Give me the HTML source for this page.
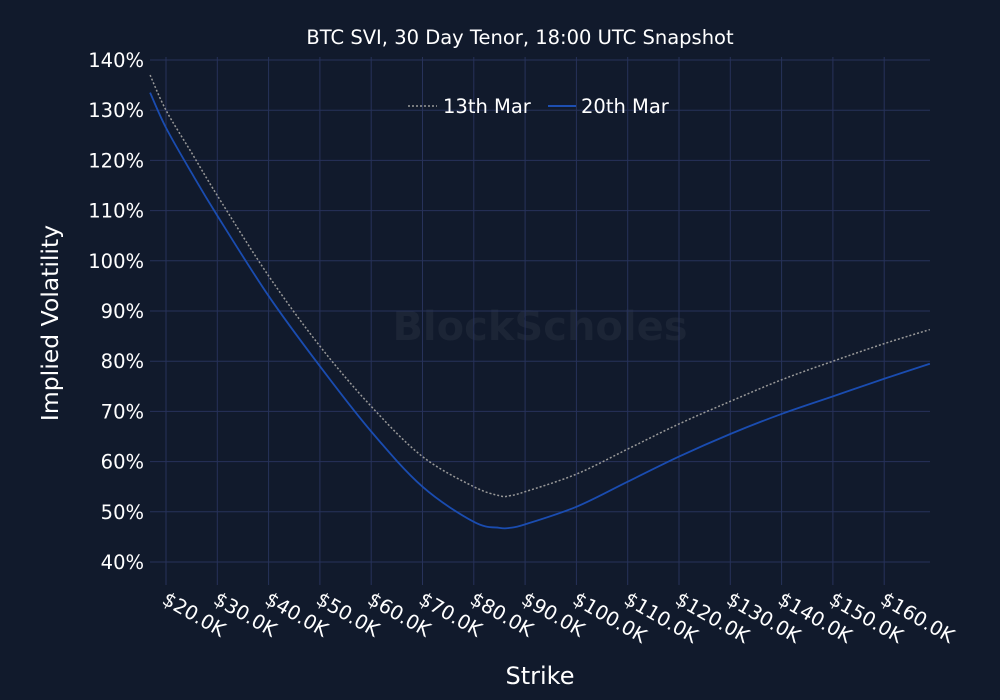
<!DOCTYPE html>
<html><head><meta charset="utf-8"><style>
body{margin:0;background:#111a2c;}
svg{display:block;font-family:"DejaVu Sans","Liberation Sans",sans-serif;}
</style></head><body>
<svg id="c" width="1000" height="700">
<rect width="1000" height="700" fill="#111a2c"/>
<text x="520" y="44" fill="#fff" font-size="19.5" text-anchor="middle">BTC SVI, 30 Day Tenor, 18:00 UTC Snapshot</text>
<text x="540" y="340" fill="#1c2536" font-size="40" text-anchor="middle" font-weight="bold">BlockScholes</text>
<g id="grid"></g><g id="series"></g><g id="axes"></g>
<text transform="translate(58,323) rotate(-90)" fill="#fff" font-size="23.5" text-anchor="middle">Implied Volatility</text>
<text x="540" y="684" fill="#fff" font-size="24" text-anchor="middle">Strike</text>
<g>
<line x1="408" y1="106" x2="437" y2="106" stroke="#999" stroke-width="1.5" stroke-dasharray="2,2"/>
<text x="443" y="113" fill="#fff" font-size="19.5">13th Mar</text>
<line x1="548" y1="106" x2="576" y2="106" stroke="#1f56c4" stroke-width="1.8"/>
<text x="581" y="113" fill="#fff" font-size="19.5">20th Mar</text>
</g>
</svg>
<script>
const strikes=[16.9,20,25,30,40,50,60,70,80,85,87,90,100,110,120,130,140,150,160,168.9];
const mar20=[133.5,126.5,117.5,109,93,79,66,55,48,46.8,46.8,47.5,51,56,61,65.5,69.5,73,76.5,79.5];
const mar13=[137,130,121.5,113,97,83,71,61,55,53.2,53.2,54,57.5,62.5,67.5,72,76.3,80,83.5,86.3];
const xTicks=[20,30,40,50,60,70,80,90,100,110,120,130,140,150,160];
const yTicks=[40,50,60,70,80,90,100,110,120,130,140];
const X=k=>166+(k-20)*5.13, Y=v=>562-(v-40)*5.02;
const ns="http://www.w3.org/2000/svg";
function mk(t,a,p){const e=document.createElementNS(ns,t);for(const k in a)e.setAttribute(k,a[k]);p.appendChild(e);return e;}
const g=document.getElementById('grid'),ax=document.getElementById('axes'),s=document.getElementById('series');
yTicks.forEach(v=>{
 const l=mk('line',{x1:150,x2:930,y1:Y(v),y2:Y(v),stroke:'#27325a','stroke-width':1},g);
 
 
 const t=mk('text',{x:144,y:Y(v)+7,fill:'#fff','font-size':19.5,'text-anchor':'end'},ax);
 t.textContent=v+'%';
 
 
});
xTicks.forEach(k=>{
 const l=mk('line',{x1:X(k),x2:X(k),y1:57,y2:585,stroke:'#27325a','stroke-width':1},g);
 
 
 const t=mk('text',{transform:`translate(${X(k)-5},${603}) rotate(30)`,fill:'#fff','font-size':19.5},ax);
 t.textContent='$'+k.toFixed(1)+'K';
 
 
});
function path(vals){
 const p=strikes.map((k,i)=>[X(k),Y(vals[i])]);
 let d=`M${p[0][0]},${p[0][1]}`;
 for(let i=0;i<p.length-1;i++){
  const p0=p[Math.max(0,i-1)],p1=p[i],p2=p[i+1],p3=p[Math.min(p.length-1,i+2)];
  const c1=[p1[0]+(p2[0]-p0[0])/6,p1[1]+(p2[1]-p0[1])/6],c2=[p2[0]-(p3[0]-p1[0])/6,p2[1]-(p3[1]-p1[1])/6];
  d+=`C${c1[0]},${c1[1]} ${c2[0]},${c2[1]} ${p2[0]},${p2[1]}`;
 }
 return d;
}
const a=mk('path',{d:path(mar13),fill:'none',stroke:'#999','stroke-width':1.5,'stroke-dasharray':'2,2'},s);


const b=mk('path',{d:path(mar20),fill:'none',stroke:'#1a4cb0','stroke-width':1.8},s);


</script>
</body></html>
